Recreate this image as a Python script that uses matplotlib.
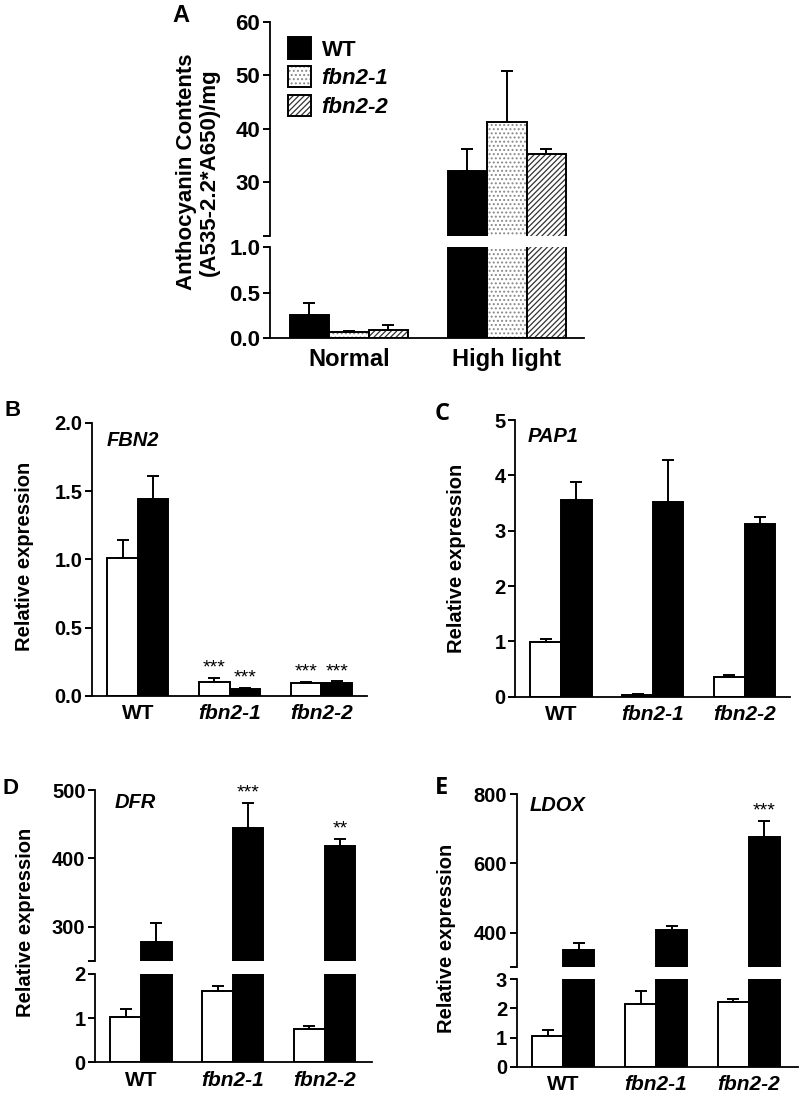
import numpy as np
import matplotlib
matplotlib.use("Agg")
import matplotlib.pyplot as plt
from matplotlib.patches import Patch

plt.rcParams['font.family'] = ['Liberation Sans', 'DejaVu Sans']
plt.rcParams['font.weight'] = 'bold'
plt.rcParams['axes.linewidth'] = 1.3
plt.rcParams['hatch.linewidth'] = 0.9

# ---- panel A data: anthocyanin contents
a_groups = ['Normal', 'High light']
a_lines = ['WT', 'fbn2-1', 'fbn2-2']
a_wt = [0.25, 32.2]
a_wt_err = [0.14, 4.0]
a_f1 = [0.07, 41.2]
a_f1_err = [0.008, 9.6]
a_f2 = [0.088, 35.3]
a_f2_err = [0.05, 1.0]

# ---- panels B-E: relative expression, normal (open) vs high light (filled)
genotypes = ['WT', 'fbn2-1', 'fbn2-2']

fbn2_norm = [1.01, 0.103, 0.095]
fbn2_norm_err = [0.13, 0.027, 0.006]
fbn2_high = [1.445, 0.047, 0.095]
fbn2_high_err = [0.165, 0.008, 0.01]
fbn2_norm_sig = ['', '***', '***']
fbn2_high_sig = ['', '***', '***']

pap1_norm = [0.995, 0.04, 0.36]
pap1_norm_err = [0.045, 0.01, 0.03]
pap1_high = [3.55, 3.52, 3.13]
pap1_high_err = [0.33, 0.75, 0.11]

dfr_norm = [1.03, 1.62, 0.75]
dfr_norm_err = [0.17, 0.11, 0.07]
dfr_high = [277, 445, 418]
dfr_high_err = [29, 37, 10]
dfr_high_sig = ['', '***', '**']

ldox_norm = [1.05, 2.14, 2.23]
ldox_norm_err = [0.21, 0.45, 0.08]
ldox_high = [350, 407, 675]
ldox_high_err = [21, 12, 48]
ldox_high_sig = ['', '', '***']

fig = plt.figure(figsize=(8, 11), dpi=100)

LW = 1.4


def bars(ax, x, vals, errs, face='black', hatch=None, hcol=None):
    x = np.asarray(x, float)
    vals = np.asarray(vals, float)
    if hatch:
        ax.bar(x, vals, width=1.0, color='white', edgecolor=hcol, hatch=hatch, lw=0)
        ax.bar(x, vals, width=1.0, fill=False, edgecolor='black', lw=LW)
    else:
        ax.bar(x, vals, width=1.0, color=face, edgecolor='black', lw=LW)
    ax.errorbar(x, vals, yerr=[np.zeros(len(vals)), errs], fmt='none',
                ecolor='black', elinewidth=LW, capsize=4, capthick=LW)


def style(ax, fs=14.5):
    for s in ['top', 'right']:
        ax.spines[s].set_visible(False)
    ax.tick_params(axis='y', direction='out', length=5, width=LW, labelsize=fs, pad=2)


def xlabels(ax, pos, labels, fs=15, pad=6):
    ax.set_xticks(pos)
    ax.set_xticklabels(labels, fontsize=fs, fontweight='bold')
    ax.tick_params(axis='x', length=0, pad=pad)
    for t in ax.get_xticklabels():
        if t.get_text().startswith('fbn2'):
            t.set_style('italic')


def stars(ax, x, tops, marks):
    for xi, yi, m in zip(x, tops, marks):
        if m:
            ax.annotate(m, (xi, yi), xytext=(0, 1), textcoords='offset points',
                        ha='center', va='bottom', fontsize=14, fontweight='normal',
                        annotation_clip=False)


# ================= Panel A (broken axis)
ax_lo = fig.add_axes([0.3375, 0.6927, 0.3925, 0.0827])
ax_hi = fig.add_axes([0.3375, 0.7857, 0.3925, 0.1943])
xa = np.array([1.0, 5.0])
for ax in (ax_lo, ax_hi):
    bars(ax, xa, a_wt, a_wt_err, face='black')
    bars(ax, xa + 1, a_f1, a_f1_err, hatch='....', hcol='#888888')
    bars(ax, xa + 2, a_f2, a_f2_err, hatch='//////', hcol='#333333')
    ax.set_xlim(0, 7.95)
    style(ax, fs=16)
ax_lo.set_ylim(0, 1.0)
ax_lo.set_yticks([0, 0.5, 1.0])
ax_lo.set_yticklabels(['0.0', '0.5', '1.0'])
xlabels(ax_lo, xa + 1, a_groups, fs=17, pad=7)
ax_hi.set_ylim(20, 60)
ax_hi.set_yticks([20, 30, 40, 50, 60])
ax_hi.set_yticklabels(['', '30', '40', '50', '60'])
ax_hi.spines['bottom'].set_visible(False)
ax_hi.set_xticks([])
handles = [Patch(facecolor='black', edgecolor='black', lw=LW),
           (Patch(facecolor='white', edgecolor='#888888', hatch='....', lw=0),
            Patch(fill=False, edgecolor='black', lw=LW)),
           (Patch(facecolor='white', edgecolor='#333333', hatch='//////', lw=0),
            Patch(fill=False, edgecolor='black', lw=LW))]
leg = ax_hi.legend(handles, a_lines, loc='upper left', bbox_to_anchor=(0.03, 0.97),
                   frameon=False, fontsize=16, handlelength=1.0, handleheight=1.1,
                   handletextpad=0.5, labelspacing=0.25, borderaxespad=0)
for t in leg.get_texts():
    t.set_fontweight('bold')
    if t.get_text().startswith('fbn2'):
        t.set_style('italic')
fig.text(198 / 800, 1 - 172 / 1100, 'Anthocyanin Contents\n(A535-2.2*A650)/mg',
         rotation=90, ha='center', va='center', fontsize=16, fontweight='bold',
         linespacing=1.15)
fig.text(172 / 800, 1 - 16 / 1100, 'A', fontsize=17, fontweight='bold', va='center')

# ================= Panels B and C (single axis)
xo = np.array([1.0, 4.0, 7.0])
xc = xo + 0.5

ax_b = fig.add_axes([0.115, 0.3675, 0.344, 0.248])
bars(ax_b, xo, fbn2_norm, fbn2_norm_err, face='white')
bars(ax_b, xo + 1, fbn2_high, fbn2_high_err, face='black')
stars(ax_b, xo, np.add(fbn2_norm, fbn2_norm_err), fbn2_norm_sig)
stars(ax_b, xo + 1, np.add(fbn2_high, fbn2_high_err), fbn2_high_sig)
ax_b.set_xlim(0, 9.0)
ax_b.set_ylim(0, 2.0)
ax_b.set_yticks([0, 0.5, 1.0, 1.5, 2.0])
ax_b.set_yticklabels(['0.0', '0.5', '1.0', '1.5', '2.0'])
style(ax_b)
xlabels(ax_b, xc, genotypes)
ax_b.text(0.055, 0.937, 'FBN2', transform=ax_b.transAxes, fontsize=14.5,
          fontweight='bold', style='italic', va='center')

ax_c = fig.add_axes([0.644, 0.3666, 0.344, 0.2515])
bars(ax_c, xo, pap1_norm, pap1_norm_err, face='white')
bars(ax_c, xo + 1, pap1_high, pap1_high_err, face='black')
ax_c.set_xlim(0, 9.0)
ax_c.set_ylim(0, 5)
ax_c.set_yticks([0, 1, 2, 3, 4, 5])
style(ax_c)
xlabels(ax_c, xc, genotypes)
ax_c.text(0.047, 0.939, 'PAP1', transform=ax_c.transAxes, fontsize=14.5,
          fontweight='bold', style='italic', va='center')

# ================= Panels D and E (broken axes)
def broken(rect_lo, rect_hi, norm, norm_err, high, high_err, sig,
           lo_lim, hi_lim, lo_ticks, hi_ticks, xmax):
    lo = fig.add_axes(rect_lo)
    hi = fig.add_axes(rect_hi)
    for ax in (lo, hi):
        bars(ax, xo, norm, norm_err, face='white')
        bars(ax, xo + 1, high, high_err, face='black')
        ax.set_xlim(0, xmax)
        style(ax)
    lo.set_ylim(*lo_lim)
    lo.set_yticks(lo_ticks)
    xlabels(lo, xc, genotypes)
    hi.set_ylim(*hi_lim)
    hi.set_yticks([hi_lim[0]] + hi_ticks)
    hi.set_yticklabels([''] + [str(v) for v in hi_ticks])
    hi.spines['bottom'].set_visible(False)
    hi.set_xticks([])
    stars(hi, xo + 1, np.add(high, high_err), sig)
    return lo, hi


d_lo, d_hi = broken([0.119, 0.0343, 0.346, 0.0803], [0.119, 0.1266, 0.346, 0.155],
                    dfr_norm, dfr_norm_err, dfr_high, dfr_high_err, dfr_high_sig,
                    (0, 2), (250, 500), [0, 1, 2], [300, 400, 500], 9.05)
d_hi.text(0.072, 0.93, 'DFR', transform=d_hi.transAxes, fontsize=14.5,
          fontweight='bold', style='italic', va='center')

e_lo, e_hi = broken([0.646, 0.0303, 0.352, 0.0795], [0.646, 0.1206, 0.352, 0.1575],
                    ldox_norm, ldox_norm_err, ldox_high, ldox_high_err, ldox_high_sig,
                    (0, 3), (300, 800), [0, 1, 2, 3], [400, 600, 800], 9.1)
e_hi.text(0.047, 0.937, 'LDOX', transform=e_hi.transAxes, fontsize=14.5,
          fontweight='bold', style='italic', va='center')

# y labels and panel letters
for xp, yp in [(25, 556), (457, 558), (26, 922), (446, 938)]:
    fig.text(xp / 800, 1 - yp / 1100, 'Relative expression', rotation=90,
             ha='center', va='center', fontsize=14.5, fontweight='bold')

fig.text(5 / 800, 1 - 410 / 1100, 'B', fontsize=16, fontweight='bold', va='center')
fig.text(3 / 800, 1 - 789 / 1100, 'D', fontsize=16, fontweight='bold', va='center')
fig.text(435 / 800, 1 - 414 / 1100, 'C', fontsize=17, fontweight='bold', va='center',
         family=['Open Sans', 'DejaVu Sans'])
fig.text(435 / 800, 1 - 788 / 1100, 'E', fontsize=17, fontweight='bold', va='center',
         family=['Open Sans', 'DejaVu Sans'])

fig.savefig('out.png', dpi=100, facecolor='white')
